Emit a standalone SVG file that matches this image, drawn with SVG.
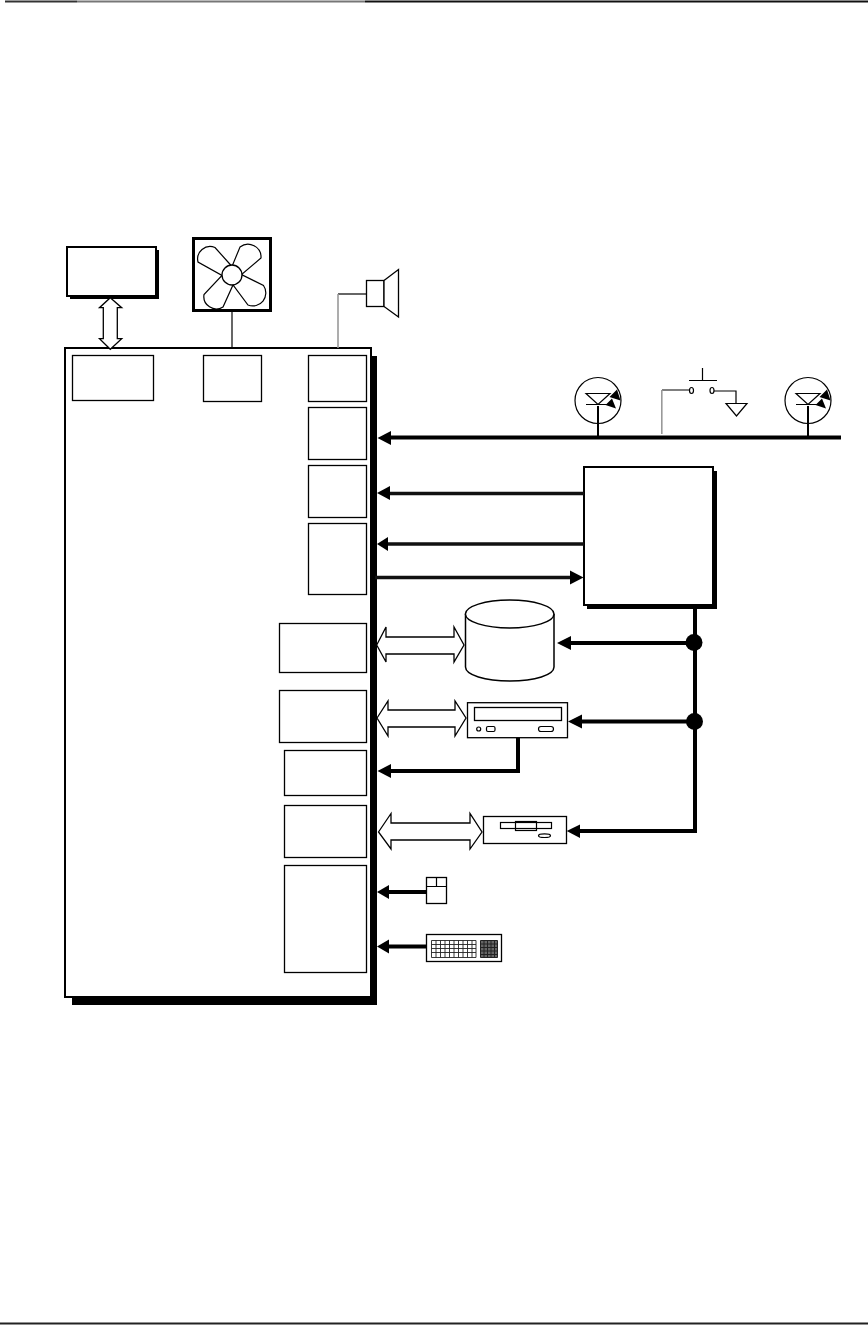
<svg xmlns="http://www.w3.org/2000/svg" width="868" height="1325" viewBox="0 0 868 1325">
<style>
.box{fill:#fff;stroke:#000;stroke-width:1.3}
.thin{fill:none;stroke:#000;stroke-width:1.2}
.heavy{fill:none;stroke:#000;stroke-width:4}
.mid{fill:none;stroke:#111;stroke-width:3.5}
.grey{fill:none;stroke:#999;stroke-width:1.6}
.dbl{fill:#fff;stroke:#000;stroke-width:1.3}
.blk{fill:#000;stroke:none}
</style>
<rect width="868" height="1325" fill="#fff"/>
<g id="page-rules">
<rect x="5" y="0.5" width="72" height="2" fill="#333"/><rect x="77" y="0.5" width="288" height="2" fill="#777"/><rect x="365" y="0.5" width="503" height="2" fill="#111"/>
<rect x="0" y="1322.5" width="868" height="2" fill="#222"/>
</g>
<g id="main-board">
<rect class="blk" x="72" y="356" width="305" height="649"/>
<rect x="65" y="348" width="306" height="649" fill="#fff" stroke="#000" stroke-width="2"/>
</g>
<g id="port-video"><rect class="box" x="72.5" y="355.5" width="81" height="45"/></g>
<g id="port-fan"><rect class="box" x="203.5" y="355.5" width="58" height="46"/></g>
<g id="port-audio"><rect class="box" x="308.5" y="355.5" width="58" height="46"/></g>
<g id="port-a"><rect class="box" x="308.5" y="407.5" width="58" height="52"/></g>
<g id="port-b"><rect class="box" x="308.5" y="465.5" width="58" height="52"/></g>
<g id="port-c"><rect class="box" x="308.5" y="523.5" width="58" height="71"/></g>
<g id="port-d"><rect class="box" x="279.5" y="623.5" width="87" height="49"/></g>
<g id="port-e"><rect class="box" x="279.5" y="690.5" width="87" height="52"/></g>
<g id="port-f"><rect class="box" x="284.5" y="750.5" width="82" height="45"/></g>
<g id="port-g"><rect class="box" x="284.5" y="805.5" width="82" height="52"/></g>
<g id="port-h"><rect class="box" x="284.5" y="865.5" width="82" height="107"/></g>
<g id="monitor">
<rect class="blk" x="70" y="250" width="89" height="49"/>
<rect x="67" y="247" width="89" height="49" fill="#fff" stroke="#000" stroke-width="2"/>
</g>
<g id="fan">
<rect x="193.500" y="238.500" width="77" height="72" fill="#fff" stroke="#000" stroke-width="3"/>
<path class="thin" d="M232 266.500L215 247.500A12.500 12.500 0 0 0 198 262L222 275.500L204 294.500A12.500 12.500 0 0 0 223 307L233 285L248 305A13 13 0 0 0 263.500 285.500L241.500 274.500L261 258A13 13 0 0 0 240 247Z"/>
<circle cx="232" cy="275" r="10" fill="#fff" stroke="#000" stroke-width="1.300"/>
</g>
<g id="speaker">
<rect class="box" x="366.500" y="280.500" width="17.500" height="26"/>
<path class="box" d="M384 280.500L398.500 269.500V317L384 306.500Z"/>
</g>
<g id="led-1">
<circle cx="598" cy="400.500" r="23" class="thin"/>
<path class="thin" d="M586 393.500H610L598 404.500ZM586 404.500H610"/>
<path class="blk" d="M609.500 397L617 389.500L620.500 400.500ZM605.500 405L612 398.500L616 408.500Z"/>
</g>
<g id="led-2">
<circle cx="808" cy="400.500" r="23" class="thin"/>
<path class="thin" d="M796 393.500H820L808 404.500ZM796 404.500H820"/>
<path class="blk" d="M819.500 397L827 389.500L830.500 400.500ZM815.500 405L822 398.500L826 408.500Z"/>
</g>
<g id="switch">
<path class="thin" d="M702.500 368V380.500M689 380.500H717M662 390H689.500M714 391H736V403.500"/>
<ellipse cx="691.500" cy="390.500" rx="2" ry="3" class="thin"/>
<ellipse cx="712" cy="390.500" rx="2" ry="3" class="thin"/>
<path class="thin" d="M726 403.500H747L736.500 416Z"/>
</g>
<g id="controller">
<rect class="blk" x="587" y="471" width="130" height="138"/>
<rect x="584" y="467" width="129" height="138" fill="#fff" stroke="#000" stroke-width="2"/>
</g>
<g id="disk">
<path d="M465.500 614V667C465.500 675 485 681 510 681C535 681 554 675 554 667V614" fill="#fff" stroke="#000" stroke-width="1.500"/>
<ellipse cx="509.700" cy="614" rx="44.300" ry="14" fill="#fff" stroke="#000" stroke-width="1.500"/>
</g>
<g id="optical-drive">
<rect class="box" x="467.500" y="702.700" width="100" height="35"/>
<rect class="box" x="474.500" y="707.500" width="87" height="13"/>
<circle cx="478.700" cy="729" r="2" class="thin"/>
<rect class="thin" x="486.500" y="726.500" width="8.500" height="5" rx="1.500"/>
<rect class="thin" x="538.500" y="726.500" width="15" height="5" rx="2.500"/>
</g>
<g id="floppy-drive">
<rect class="box" x="483.500" y="816.500" width="83" height="27"/>
<rect class="thin" x="500.500" y="822.500" width="51" height="6"/>
<rect class="thin" x="515.500" y="821.500" width="21" height="9"/>
<ellipse cx="544.500" cy="835.700" rx="6" ry="1.800" class="thin"/>
</g>
<g id="mouse">
<rect class="box" x="426.500" y="877.500" width="20" height="26"/>
<path class="thin" d="M426.500 886.500H446.500M436.500 877.500V886.500"/>
</g>
<g id="keyboard">
<rect class="box" x="426.500" y="934.500" width="75" height="27"/>
<path stroke="#222" stroke-width="0.900" fill="none" d="M431.500 940.500H476V957.500H431.500ZM431.500 944.500H476M431.500 948.500H476M431.500 952.500H476M436 940.500V957.500M440.500 940.500V957.500M445 940.500V957.500M449.500 940.500V957.500M454 940.500V957.500M458.500 940.500V957.500M463 940.500V957.500M467.500 940.500V957.500M472 940.500V957.500"/>
<path stroke="#222" stroke-width="1" fill="#666" d="M480.500 940.500H497.500V957.500H480.500ZM480.500 944H497.500M480.500 947.500H497.500M480.500 951H497.500M480.500 954.500H497.500M484 940.500V957.500M487.500 940.500V957.500M491 940.500V957.500M494.500 940.500V957.500"/>
</g>
<g id="connectors">
<path class="thin" d="M232 311V348"/>
<path class="thin" d="M338 294H366.500"/>
<path class="grey" d="M338 294V348"/>
<path class="grey" d="M661.800 390V434"/>
<path class="dbl" d="M110.300 297.700L121.700 307.700H117.300V338.700H121.700L110.300 349.300L99.500 338.700H103.300V307.700H99.500Z"/>
<path class="dbl" d="M376.700 645L386 627V637H454V627L464 645L454 662V654H386V662Z"/>
<path class="dbl" d="M377 718L388 701V710H455V701L466 718L455 736V727H388V736Z"/>
<path class="dbl" d="M378.500 832L391 813.500V823H470V813.500L482 832L470 849V840H391V849Z"/>
<path stroke="#000" stroke-width="2" fill="none" d="M598 406V438M808 406V438"/>
<path class="heavy" d="M388 437.500H841"/>
<path class="blk" d="M377.500 438L391 431V445Z"/>
<path class="mid" d="M388 493.500H584"/>
<path class="blk" d="M377 493L390 486V500Z"/>
<path class="mid" d="M388 544H584"/>
<path class="blk" d="M377 544L388 537V551Z"/>
<path class="mid" d="M375 577.500H572"/>
<path class="blk" d="M583.500 577.500L570 570.500V584.500Z"/>
<path class="heavy" d="M695 609V831H578"/>
<path class="blk" d="M566.700 831L580 824.500V838Z"/>
<circle class="blk" cx="694" cy="642.500" r="8.500"/>
<circle class="blk" cx="694.500" cy="721.500" r="8.500"/>
<path class="heavy" d="M694 643H568"/>
<path class="blk" d="M557 643L571 636V650Z"/>
<path class="heavy" d="M694 721.500H580"/>
<path class="blk" d="M568 721.500L582 714.500V728.500Z"/>
<path class="heavy" d="M518 738V771H388"/>
<path class="blk" d="M377.500 771L391 764V778Z"/>
<path class="heavy" d="M426 892H386"/>
<path class="blk" d="M377 892L389 885V899Z"/>
<path class="heavy" d="M426 946.500H386"/>
<path class="blk" d="M377 946.500L389 939.500V953.500Z"/>
</g>
</svg>
